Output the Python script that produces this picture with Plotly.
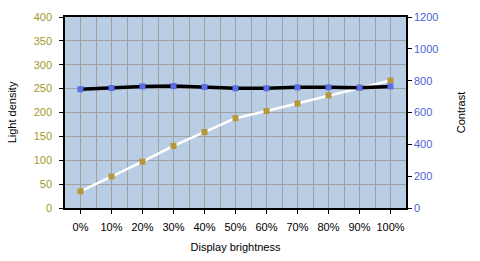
import plotly.graph_objects as go

categories = ["0%", "10%", "20%", "30%", "40%", "50%", "60%", "70%", "80%", "90%", "100%"]
light_density = [35, 66, 97, 130, 159, 188, 203, 219, 236, 252, 267]
contrast = [746, 754, 764, 766, 760, 752, 752, 758, 758, 756, 764]

x = list(range(len(categories)))

fig = go.Figure()
fig.add_trace(go.Scatter(
    x=x, y=light_density, mode="lines+markers", name="Light density",
    line=dict(color="white", width=2.5),
    marker=dict(symbol="square", size=6, color="#b8963a"),
    yaxis="y"))
fig.add_trace(go.Scatter(
    x=x, y=contrast, mode="lines+markers", name="Contrast",
    line=dict(color="black", width=3.5),
    marker=dict(symbol="square", size=6, color="#5b6ee8"),
    yaxis="y2"))

font = "Liberation Sans"
fig.update_layout(
    width=480, height=261,
    margin=dict(l=65, r=74, t=17, b=53),
    paper_bgcolor="white", plot_bgcolor="#b9cde5",
    showlegend=False,
    font=dict(family=font, size=11, color="black"),
    xaxis=dict(
        range=[-0.5, 10.5], tickvals=x, ticktext=categories,
        showgrid=True, gridcolor="#a0a0a0", gridwidth=1,
        minor=dict(dtick=0.5, tick0=0, showgrid=True, gridcolor="#a0a0a0", gridwidth=1),
        ticks="outside", ticklen=4, tickcolor="black",
        ticklabelstandoff=4,
        showline=True, linecolor="black", linewidth=1.5, mirror=True,
        zeroline=False, automargin=False,
        title=dict(text="Display brightness", font=dict(size=11), standoff=11),
        tickfont=dict(size=11, color="black"),
    ),
    yaxis=dict(
        range=[0, 400], dtick=50, showgrid=True, gridcolor="#a0a0a0", gridwidth=1,
        ticks="outside", ticklen=4, tickcolor="black",
        ticklabelstandoff=5,
        showline=True, linecolor="black", linewidth=1.5,
        zeroline=False, automargin=False,
        tickfont=dict(size=11, color="#a09a30"),
        title=dict(text="Light density", font=dict(size=11), standoff=15),
    ),
    yaxis2=dict(
        range=[0, 1200], dtick=200, overlaying="y", side="right",
        showgrid=False, ticks="outside", ticklen=4, tickcolor="black",
        showline=True, linecolor="black", linewidth=1.5,
        zeroline=False, automargin=False,
        tickfont=dict(size=11, color="#5060d8"),
        title=dict(text="Contrast", font=dict(size=11), standoff=20),
    ),
)

fig.write_html("out.html")
